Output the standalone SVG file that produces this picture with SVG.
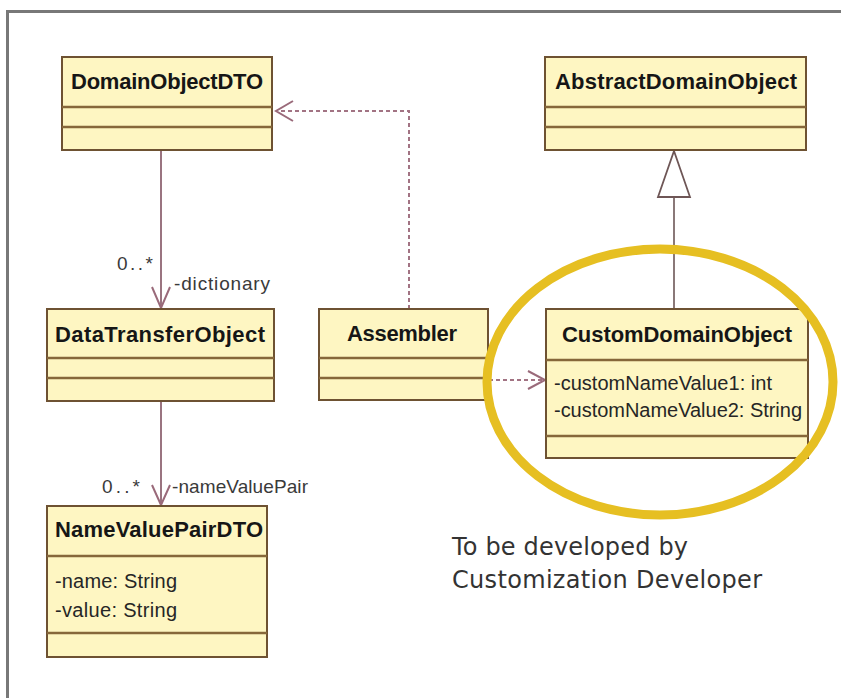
<svg xmlns="http://www.w3.org/2000/svg" width="841" height="698" viewBox="0 0 841 698">
  <style>
    .box { fill: #fef6c2; stroke: #6e5232; stroke-width: 2; }
    .div { stroke: #86673a; stroke-width: 2.5; }
    .title { font-family: "Liberation Sans", Arial, sans-serif; font-weight: bold; font-size: 22px; fill: #161616; text-anchor: middle; }
    .attr { font-family: "Liberation Sans", Arial, sans-serif; font-size: 20px; fill: #262626; }
    .role { font-family: "Liberation Sans", Arial, sans-serif; font-size: 19px; fill: #3a3a3a; }
    .note { font-family: "DejaVu Sans", Verdana, sans-serif; font-size: 24px; fill: #333333; }
    .assoc { stroke: #9a7480; stroke-width: 2; fill: none; }
    .dep { stroke: #a27383; stroke-width: 2; fill: none; stroke-dasharray: 4 3; }
    .head { stroke: #9a6a7a; stroke-width: 2; fill: none; }
  </style>

  <rect x="0" y="0" width="841" height="698" fill="#ffffff"/>
  <!-- frame -->
  <path d="M7.5 698 V11.5 H841" fill="none" stroke="#787878" stroke-width="3"/>

  <g id="connectors">
    <!-- DomainObjectDTO -> DataTransferObject -->
    <line class="assoc" x1="161" y1="150" x2="161" y2="308"/>
    <path class="head" d="M152 287 L161 308 L170 287"/>
    <!-- DataTransferObject -> NameValuePairDTO -->
    <line class="assoc" x1="161" y1="401" x2="161" y2="505"/>
    <path class="head" d="M152 485 L161 505 L170 485"/>
    <!-- Assembler ..> DomainObjectDTO -->
    <path class="dep" d="M409 309 V111 H278"/>
    <path class="head" d="M293 101 L276 111 L293 121"/>
    <!-- Assembler ..> CustomDomainObject -->
    <line class="dep" x1="489" y1="380" x2="543" y2="380"/>
    <path class="head" d="M528 371 L545 380 L528 389"/>
    <!-- CustomDomainObject -|> AbstractDomainObject -->
    <line x1="674" y1="197" x2="674" y2="309" stroke="#8a7878" stroke-width="2"/>
    <path d="M674 151 L690 197 L658 197 Z" fill="#ffffff" stroke="#6e5656" stroke-width="1.8"/>
  </g>

  <g id="DomainObjectDTO">
    <rect class="box" x="62" y="57" width="210" height="93"/>
    <line class="div" x1="62" y1="107" x2="272" y2="107"/>
    <line class="div" x1="62" y1="127" x2="272" y2="127"/>
    <text class="title" x="167" y="89" textLength="192">DomainObjectDTO</text>
  </g>

  <g id="AbstractDomainObject">
    <rect class="box" x="545" y="57" width="261" height="93"/>
    <line class="div" x1="545" y1="107" x2="806" y2="107"/>
    <line class="div" x1="545" y1="127" x2="806" y2="127"/>
    <text class="title" x="676" y="89" textLength="242">AbstractDomainObject</text>
  </g>

  <g id="DataTransferObject">
    <rect class="box" x="47" y="309" width="227" height="92"/>
    <line class="div" x1="47" y1="358" x2="274" y2="358"/>
    <line class="div" x1="47" y1="378" x2="274" y2="378"/>
    <text class="title" x="160" y="342" textLength="210">DataTransferObject</text>
  </g>

  <g id="Assembler">
    <rect class="box" x="319" y="309" width="169" height="91"/>
    <line class="div" x1="319" y1="358" x2="488" y2="358"/>
    <line class="div" x1="319" y1="378" x2="488" y2="378"/>
    <text class="title" x="402" y="341" textLength="110">Assembler</text>
  </g>

  <g id="CustomDomainObject">
    <rect class="box" x="546" y="309" width="262" height="149"/>
    <line class="div" x1="546" y1="360" x2="808" y2="360"/>
    <line class="div" x1="546" y1="436" x2="808" y2="436"/>
    <text class="title" x="677" y="342" textLength="230">CustomDomainObject</text>
    <text class="attr" x="554" y="390" textLength="218">-customNameValue1: int</text>
    <text class="attr" x="554" y="417" textLength="248">-customNameValue2: String</text>
  </g>

  <g id="NameValuePairDTO">
    <rect class="box" x="47" y="506" width="220" height="151"/>
    <line class="div" x1="47" y1="556" x2="267" y2="556"/>
    <line class="div" x1="47" y1="633" x2="267" y2="633"/>
    <text class="title" x="159" y="537" textLength="208">NameValuePairDTO</text>
    <text class="attr" x="55" y="588" textLength="122">-name: String</text>
    <text class="attr" x="55" y="617" textLength="122">-value: String</text>
  </g>

  <g id="labels">
    <text class="role" x="117" y="270" textLength="36">0..*</text>
    <text class="role" x="174" y="290" textLength="96">-dictionary</text>
    <text class="role" x="102" y="493" textLength="38">0..*</text>
    <text class="role" x="172" y="493" textLength="136">-nameValuePair</text>
  </g>

  <!-- highlight ring around the custom class -->
  <g id="highlight">
    <ellipse cx="660" cy="382" rx="173" ry="133" fill="none" stroke="#e6bf22" stroke-width="9"/>
    <text class="note" x="452" y="555" textLength="236">To be developed by</text>
    <text class="note" x="452" y="588" textLength="310">Customization Developer</text>
  </g>
</svg>
